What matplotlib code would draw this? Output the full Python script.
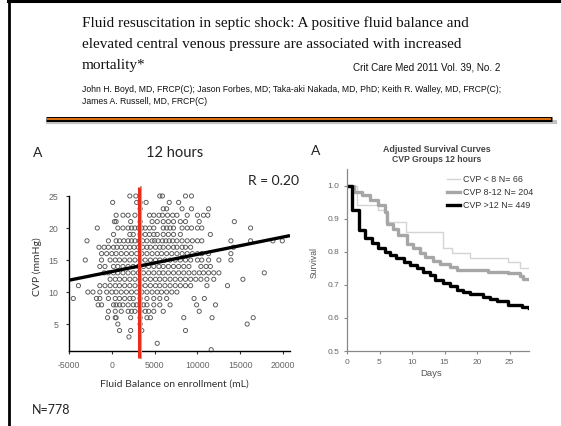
import matplotlib
matplotlib.use("Agg")
import matplotlib.pyplot as plt
from matplotlib.lines import Line2D
import numpy as np

W, H = 561, 426

# ---------------- Scatter data: fluid balance (thousands of mL) per CVP level ----------------
fb_cvp25 = [2.1, 2.8, 5.6, 5.9, 8.6, 9.3]
fb_cvp24 = [0.1, 2.9, 3.3, 4.0, 6.7, 7.8]
fb_cvp23 = [3.3, 6.0, 6.4, 8.2, 9.3, 11.3]
fb_cvp22 = [0.5, 1.3, 1.9, 2.7, 4.4, 4.9, 5.5, 5.9, 6.5, 7.1, 7.6, 8.8, 10.0, 10.7, 11.2]
fb_cvp21 = [0.3, 0.5, 2.2, 3.3, 4.7, 5.3, 6.0, 6.6, 7.2, 8.0, 8.6, 10.2, 14.3]
fb_cvp20 = [-1.7, 0.7, 1.3, 1.9, 2.3, 2.7, 3.1, 3.5, 3.9, 4.4, 4.9, 6.0, 6.4, 6.8, 7.2, 8.2, 8.8, 9.3, 10.0, 10.5, 16.2]
fb_cvp19 = [0.2, 2.1, 2.5, 3.3, 3.9, 4.4, 4.9, 5.3, 6.0, 6.6, 7.2, 8.0, 11.5]
fb_cvp18 = [-2.9, -0.4, 0.5, 0.9, 1.4, 1.9, 2.3, 2.7, 3.2, 3.6, 4.1, 4.7, 5.0, 5.4, 5.9, 6.3, 6.7, 7.1, 7.6, 8.2, 8.8, 9.4, 10.0, 10.5, 13.9, 16.2, 18.8, 19.9]
fb_cvp17 = [-1.5, -0.9, -0.4, 0.2, 0.6, 1.1, 1.6, 2.1, 2.6, 3.1, 3.6, 4.1, 4.5, 5.1, 5.6, 6.0, 6.6, 7.2, 7.6, 8.2, 8.6, 9.2, 14.2]
fb_cvp16 = [-1.2, -0.6, 0.0, 0.5, 1.1, 1.7, 2.3, 2.9, 3.5, 4.1, 4.7, 5.3, 5.8, 6.4, 7.0, 7.6, 8.2, 8.8, 9.4, 10.0, 10.5, 11.3, 13.9]
fb_cvp15 = [-3.1, -1.2, -0.2, 0.4, 0.9, 1.5, 2.1, 2.7, 3.3, 3.9, 4.5, 5.1, 5.6, 6.2, 6.8, 7.4, 8.0, 8.6, 9.2, 10.0, 10.5, 11.3, 12.5, 13.9]
fb_cvp14 = [-1.4, -0.8, 0.2, 0.7, 1.3, 1.9, 2.5, 3.1, 3.7, 4.3, 4.9, 5.5, 6.0, 6.6, 7.2, 7.8, 8.4, 9.0, 10.4, 11.0, 11.5]
fb_cvp13 = [-0.9, -0.4, 0.2, 0.7, 1.3, 1.9, 2.5, 3.1, 3.7, 4.3, 4.9, 5.5, 6.0, 6.6, 7.2, 7.8, 8.4, 9.0, 9.6, 10.2, 10.7, 11.3, 11.9, 12.5, 17.8]
fb_cvp12 = [-0.2, 0.4, 0.9, 1.5, 2.1, 2.7, 3.3, 3.9, 4.5, 5.1, 5.6, 6.2, 6.8, 7.4, 8.0, 8.6, 9.2, 9.8, 10.4, 11.1, 11.9, 15.3]
fb_cvp11 = [-3.9, -1.4, -0.8, -0.2, 0.4, 0.9, 1.5, 2.1, 2.7, 3.3, 3.9, 4.5, 5.1, 5.6, 6.2, 6.8, 7.4, 8.0, 8.6, 9.2, 11.1, 13.5]
fb_cvp10 = [-2.8, -2.2, -1.4, -0.6, 0.0, 0.5, 1.1, 1.7, 2.3, 2.9, 3.5, 4.1, 4.7, 5.3, 5.8, 6.4, 7.0, 7.6]
fb_cvp9 = [-4.5, -1.8, -1.4, -0.4, 0.4, 0.9, 1.5, 2.1, 2.5, 3.3, 4.1, 4.9, 5.6, 6.4, 9.6, 10.8]
fb_cvp8 = [-1.6, -1.2, 0.2, 0.5, 0.9, 1.3, 1.9, 2.5, 2.9, 3.3, 3.7, 4.1, 4.9, 5.6, 6.8, 9.9, 12.1]
fb_cvp7 = [-0.4, 0.4, 1.1, 1.9, 2.3, 2.7, 3.3, 3.9, 4.3, 4.9, 6.0, 10.2]
fb_cvp6 = [-0.5, 0.4, 0.5, 2.2, 3.3, 4.1, 4.5, 8.4, 11.7, 16.5]
fb_cvp5 = [0.7, 3.3, 15.8]
fb_cvp4 = [0.9, 2.2, 3.5, 8.6]
fb_cvp3 = [2.0]
fb_cvp2 = [5.3]
fb_cvp1 = [11.6]

cvp_rows = {25: fb_cvp25, 24: fb_cvp24, 23: fb_cvp23, 22: fb_cvp22, 21: fb_cvp21,
            20: fb_cvp20, 19: fb_cvp19, 18: fb_cvp18, 17: fb_cvp17, 16: fb_cvp16,
            15: fb_cvp15, 14: fb_cvp14, 13: fb_cvp13, 12: fb_cvp12, 11: fb_cvp11,
            10: fb_cvp10, 9: fb_cvp9, 8: fb_cvp8, 7: fb_cvp7, 6: fb_cvp6,
            5: fb_cvp5, 4: fb_cvp4, 3: fb_cvp3, 2: fb_cvp2, 1: fb_cvp1}

fit_intercept = 13.2      # mmHg at 0 mL
fit_slope = 0.27          # mmHg per 1000 mL
median_fb = 3.2           # thousands of mL (red line)
scatter_xticks = [-5000, 0, 5000, 10000, 15000, 20000]
scatter_yticks = [5, 10, 15, 20, 25]

# ---------------- Survival data ----------------
days_lo = [0, 1.5, 4.8, 6.0, 9.0, 14.8, 16.1, 18.9, 24.8, 26.6, 28]
surv_lo = [1.0, 0.94, 0.925, 0.89, 0.86, 0.81, 0.795, 0.78, 0.77, 0.75, 0.75]
days_mid = [0, 1.0, 2.3, 3.5, 4.8, 5.8, 6.1, 7.1, 7.9, 9.2, 10.2, 11.2, 12.0, 13.3, 14.3, 15.8, 16.9, 21.7, 24.8, 26.6, 27.1, 28]
surv_mid = [1.0, 0.98, 0.97, 0.957, 0.94, 0.92, 0.883, 0.868, 0.852, 0.824, 0.81, 0.797, 0.785, 0.772, 0.764, 0.754, 0.746, 0.74, 0.735, 0.726, 0.717, 0.717]
days_hi = [0, 0.8, 1.8, 2.8, 3.8, 4.8, 5.8, 6.6, 7.6, 8.7, 9.7, 10.7, 11.7, 12.8, 13.6, 14.8, 15.8, 16.9, 17.9, 18.9, 20.9, 22.0, 23.0, 24.8, 26.9, 28]
surv_hi = [1.0, 0.925, 0.865, 0.84, 0.825, 0.81, 0.80, 0.79, 0.78, 0.77, 0.76, 0.75, 0.74, 0.73, 0.715, 0.705, 0.695, 0.685, 0.678, 0.672, 0.664, 0.656, 0.65, 0.64, 0.634, 0.63]
surv_labels = ["CVP < 8 N= 66", "CVP 8-12 N= 204", "CVP >12 N= 449"]
surv_xticks = [0, 5, 10, 15, 20, 25]
surv_yticks = [0.5, 0.6, 0.7, 0.8, 0.9, 1.0]

# ---------------- Figure ----------------
fig = plt.figure(figsize=(W / 100, H / 100), dpi=100)
fig.patch.set_facecolor("white")


def fx(x):
    return x / W


def fy(y):
    return 1 - y / H


def ftext(x, y, s, **kw):
    fig.text(fx(x), fy(y), s, **kw)


# slide frame (top and left)
fig.add_artist(Line2D([fx(8), 1], [fy(1), fy(1)], color="black", lw=2.2))
fig.add_artist(Line2D([fx(9), fx(9)], [0, 1], color="black", lw=2.0))

# separator bar with shadow
fig.add_artist(Line2D([fx(48), fx(555)], [fy(121.5), fy(121.5)], color="#9a9a9a", lw=3.0, alpha=0.6))
fig.add_artist(Line2D([fx(46), fx(552)], [fy(119), fy(119)], color="black", lw=3.6, solid_capstyle="butt"))
fig.add_artist(Line2D([fx(47), fx(551)], [fy(119), fy(119)], color="#d9700f", lw=1.5, solid_capstyle="butt"))

# title
serif = ["Liberation Serif", "DejaVu Serif"]
ts = 11.0
ftext(82, 27, "Fluid resuscitation in septic shock: A positive fluid balance and",
      family=serif, fontsize=ts, va="baseline", color="#111")
ftext(82, 48, "elevated central venous pressure are associated with increased",
      family=serif, fontsize=ts, va="baseline", color="#111")
ftext(82, 69, "mortality*", family=serif, fontsize=ts, va="baseline", color="#111")
narrow = ["Liberation Sans Narrow", "Liberation Sans", "DejaVu Sans"]
ftext(500, 70, "Crit Care Med 2011 Vol. 39, No. 2", family=narrow, fontsize=7.1,
      va="baseline", ha="right", color="#111")
ftext(82, 92, "John H. Boyd, MD, FRCP(C); Jason Forbes, MD; Taka-aki Nakada, MD, PhD; "
      "Keith R. Walley, MD, FRCP(C);", family=narrow, fontsize=6.2, va="baseline", color="#111")
ftext(82, 104, "James A. Russell, MD, FRCP(C)", family=narrow, fontsize=6.2, va="baseline", color="#111")

calib = ["Lato", "DejaVu Sans"]
arial = ["Liberation Sans", "DejaVu Sans"]

# ---------------- Left chart: scatter ----------------
ax1 = fig.add_axes([fx(69), fy(351), (290 - 69) / W, (351 - 196) / H])
xs, ys = [], []
for lvl, vals in cvp_rows.items():
    for v in vals:
        xs.append(v * 1000)
        ys.append(lvl)
ax1.scatter(xs, ys, s=9, facecolors="none", edgecolors="#555555", linewidths=0.65,
            clip_on=False, zorder=2)
xlim = (-5000, 20800)
ax1.set_xlim(*xlim)
ax1.set_ylim(0.8, 25)
lx = np.array(xlim)
ax1.plot(lx, fit_intercept + fit_slope * lx / 1000, color="black", lw=2.4,
         solid_capstyle="butt", zorder=4)
# red median line with shadow
ax1.plot([median_fb * 1000 + 230, median_fb * 1000 + 230], [-0.3, 26.4], color="#b0b0b0",
         lw=1.5, clip_on=False, zorder=3)
ax1.plot([median_fb * 1000, median_fb * 1000], [-0.3, 26.4], color="#ee2a1a", lw=2.2,
         clip_on=False, zorder=5, solid_capstyle="butt")
for sp in ["top", "right"]:
    ax1.spines[sp].set_visible(False)
for sp in ["left", "bottom"]:
    ax1.spines[sp].set_color("black")
    ax1.spines[sp].set_linewidth(1.0)
ax1.set_xticks(scatter_xticks)
ax1.set_yticks(scatter_yticks)
ax1.set_xticklabels([str(t) for t in scatter_xticks])
ax1.tick_params(axis="both", labelsize=6.3, colors="#333", labelcolor="#666",
                length=2.5, width=0.8, direction="out", pad=5)
for lab in ax1.get_xticklabels() + ax1.get_yticklabels():
    lab.set_family(arial)
ax1.set_facecolor("none")

ftext(38, 153, "A", family=calib, fontsize=10, ha="center", va="center", color="#222")
ftext(175, 153, "12 hours", family=calib, fontsize=10.5, ha="center", va="center", color="#222")
ftext(273, 181, "R = 0.20", family=calib, fontsize=10, ha="center", va="center", color="#222")
ftext(37, 267, "CVP (mmHg)", family=calib, fontsize=7.5, ha="center", va="center",
      rotation=90, color="#333")
ftext(174, 384, "Fluid Balance on enrollment (mL)", family=calib, fontsize=7.5,
      ha="center", va="center", color="#333")
ftext(32, 410, "N=778", family=calib, fontsize=9, ha="left", va="center", color="#222")

# ---------------- Right chart: survival ----------------
ax2 = fig.add_axes([fx(347), fy(351), (529 - 347) / W, (351 - 169) / H])
l1, = ax2.plot(days_lo, surv_lo, drawstyle="steps-post", color="#d4d4d4", lw=1.0)
l2, = ax2.plot(days_mid, surv_mid, drawstyle="steps-post", color="#a6a6a6", lw=2.4)
l3, = ax2.plot(days_hi, surv_hi, drawstyle="steps-post", color="black", lw=2.4)
ax2.set_xlim(0, 28)
ax2.set_ylim(0.5, 1.05)
ax2.set_xticks(surv_xticks)
ax2.set_yticks(surv_yticks)
ax2.set_yticklabels([f"{t:.1f}" for t in surv_yticks])
for sp in ["top", "right"]:
    ax2.spines[sp].set_visible(False)
for sp in ["left", "bottom"]:
    ax2.spines[sp].set_color("#888")
    ax2.spines[sp].set_linewidth(0.9)
ax2.tick_params(axis="both", labelsize=6, colors="#888", labelcolor="#666",
                length=2.5, width=0.8, direction="out", pad=3)
for lab in ax2.get_xticklabels() + ax2.get_yticklabels():
    lab.set_family(arial)
ax2.set_facecolor("none")
leg = ax2.legend([l1, l2, l3], surv_labels, loc="upper left", bbox_to_anchor=(0.55, 0.965),
                 frameon=False, fontsize=6.4, handlelength=1.4, handletextpad=0.4,
                 labelspacing=0.45, borderaxespad=0, borderpad=0,
                 prop={"family": arial, "size": 6.4})
for t in leg.get_texts():
    t.set_color("#333")

ftext(316, 151, "A", family=calib, fontsize=10, ha="center", va="center", color="#222")
ftext(437, 149, "Adjusted Survival Curves", family=arial, fontsize=6.4, weight="bold",
      ha="center", va="center", color="#444")
ftext(437, 160, "CVP Groups 12 hours", family=arial, fontsize=6.2, weight="bold",
      ha="center", va="center", color="#444")
ftext(314, 263, "Survival", family=arial, fontsize=6.2, rotation=90, ha="center",
      va="center", color="#555")
ftext(431, 373, "Days", family=arial, fontsize=6.8, ha="center", va="center", color="#555")

fig.savefig("out.png", dpi=100, facecolor="white")
